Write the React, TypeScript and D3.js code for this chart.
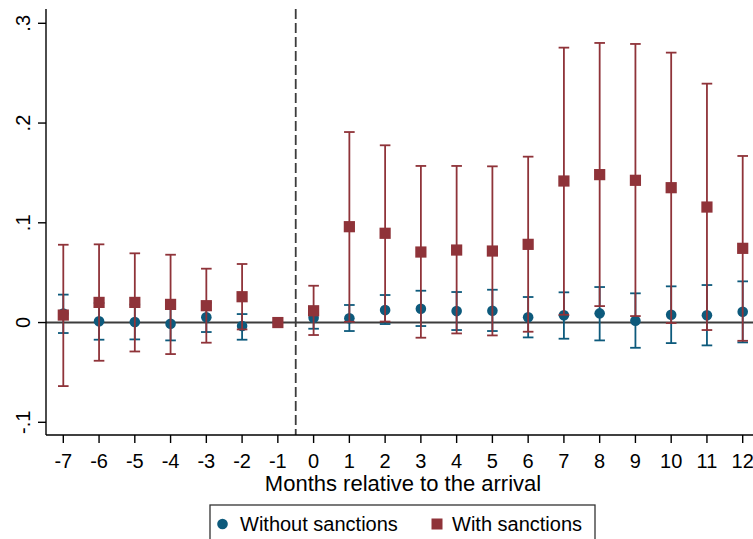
import React from "react";
import * as d3 from "d3";

const months = [-7, -6, -5, -4, -3, -2, -1, 0, 1, 2, 3, 4, 5, 6, 7, 8, 9, 10, 11, 12];

const withoutCoef = [0.009, 0.0012, 0.0005, -0.0012, 0.0052, -0.0035, 0, 0.0048, 0.0042, 0.0125, 0.0139, 0.0115, 0.0119, 0.0052, 0.0072, 0.0092, 0.0018, 0.0078, 0.0072, 0.0108];
const withoutLo = [-0.0105, -0.0172, -0.0169, -0.0179, -0.0095, -0.0172, null, -0.0062, -0.0085, -0.0015, -0.0035, -0.0075, -0.0085, -0.0149, -0.0162, -0.0179, -0.0253, -0.0206, -0.0229, -0.0199];
const withoutHi = [0.028, 0.0196, 0.018, 0.0155, 0.0199, 0.0085, null, 0.0158, 0.0176, 0.0276, 0.0319, 0.0306, 0.0329, 0.0256, 0.0303, 0.0356, 0.0293, 0.0363, 0.0376, 0.0413];

const withCoef = [0.0075, 0.0202, 0.0202, 0.0182, 0.0169, 0.0259, 0, 0.0118, 0.0961, 0.0895, 0.0707, 0.0727, 0.0717, 0.0784, 0.1419, 0.1483, 0.1426, 0.1352, 0.1158, 0.0744];
const withLo = [-0.0637, -0.0383, -0.029, -0.0316, -0.0202, -0.0069, null, -0.0125, 0.0008, 0.001, -0.0152, -0.0109, -0.0129, -0.0092, 0.0078, 0.0165, 0.0065, -0.0005, -0.0075, -0.0183];
const withHi = [0.078, 0.0784, 0.0694, 0.068, 0.054, 0.0587, null, 0.0369, 0.191, 0.1777, 0.157, 0.157, 0.1566, 0.1663, 0.2756, 0.2803, 0.2793, 0.2706, 0.2395, 0.167];

const yTicks = [-0.1, 0, 0.1, 0.2, 0.3];
const yTickLabels = ["-.1", "0", ".1", ".2", ".3"];
const seriesNames = ["Without sanctions", "With sanctions"];
const xTitle = "Months relative to the arrival";
const eventLine = -0.5;

const BLUE = "#0d5a7c";
const RED = "#8f3339";
const FONT = "'Liberation Sans', Arial, sans-serif";

export default function App() {
  const W = 753, H = 539;
  const axisX = 46, axisY = 435, plotTop = 9;
  const x = d3.scaleLinear().domain([-7, 12]).range([63.3, 742.7]);
  const y = d3.scaleLinear().domain([-0.1, 0.3]).range([422.3, 23.3]);
  const cap = 5.3;

  const errBars = (lo: (number | null)[], hi: (number | null)[], color: string) =>
    months.map((m, i) => {
      const l = lo[i], h = hi[i];
      if (l == null || h == null) return null;
      const cx = x(m);
      return (
        <g key={"e" + color + m} stroke={color} strokeWidth={1.8} fill="none">
          <line x1={cx} x2={cx} y1={y(l)} y2={y(h)} />
          <line x1={cx - cap} x2={cx + cap} y1={y(l)} y2={y(l)} />
          <line x1={cx - cap} x2={cx + cap} y1={y(h)} y2={y(h)} />
        </g>
      );
    });

  return (
    <svg width={W} height={H} style={{ position: "absolute", left: 0, top: 0, background: "#fff" }}>
      <rect x={0} y={0} width={W} height={H} fill="#fff" />
      {/* zero line */}
      <line x1={axisX} x2={W} y1={y(0)} y2={y(0)} stroke="#3c3c3c" strokeWidth={2} />
      {/* event line */}
      <line x1={x(eventLine)} x2={x(eventLine)} y1={plotTop} y2={axisY} stroke="#3c3c3c" strokeWidth={1.8} strokeDasharray="10,4" />

      {errBars(withoutLo, withoutHi, BLUE)}
      {months.map((m, i) => (
        <circle key={"b" + m} cx={x(m)} cy={y(withoutCoef[i])} r={5.3} fill={BLUE} />
      ))}
      {errBars(withLo, withHi, RED)}
      {months.map((m, i) => (
        <rect key={"r" + m} x={x(m) - 5.6} y={y(withCoef[i]) - 5.6} width={11.2} height={11.2} fill={RED} />
      ))}

      {/* axes */}
      <line x1={axisX} x2={axisX} y1={plotTop} y2={axisY} stroke="#000" strokeWidth={1.4} />
      <line x1={axisX} x2={W} y1={axisY} y2={axisY} stroke="#000" strokeWidth={1.4} />
      {yTicks.map((t, i) => (
        <g key={"yt" + t}>
          <line x1={axisX - 8} x2={axisX} y1={y(t)} y2={y(t)} stroke="#000" strokeWidth={1.4} />
          <text
            transform={`translate(30,${y(t)}) rotate(-90)`}
            textAnchor="middle"
            fontFamily={FONT}
            fontSize={20}
            fill="#000"
          >
            {yTickLabels[i]}
          </text>
        </g>
      ))}
      {months.map((m) => (
        <g key={"xt" + m}>
          <line x1={x(m)} x2={x(m)} y1={axisY} y2={axisY + 8} stroke="#000" strokeWidth={1.4} />
          <text x={x(m)} y={468} textAnchor="middle" fontFamily={FONT} fontSize={20} fill="#000">
            {m}
          </text>
        </g>
      ))}
      <text x={403} y={491} textAnchor="middle" fontFamily={FONT} fontSize={22} fill="#000">
        {xTitle}
      </text>

      {/* legend */}
      <rect x={210} y={505} width={385} height={45} fill="#fff" stroke="#333" strokeWidth={1.3} />
      <circle cx={222.5} cy={524} r={5.3} fill={BLUE} />
      <text x={240} y={531} fontFamily={FONT} fontSize={20} fill="#000">{seriesNames[0]}</text>
      <rect x={431.5} y={518.5} width={11} height={11} fill={RED} />
      <text x={452} y={531} fontFamily={FONT} fontSize={20} fill="#000">{seriesNames[1]}</text>
    </svg>
  );
}
